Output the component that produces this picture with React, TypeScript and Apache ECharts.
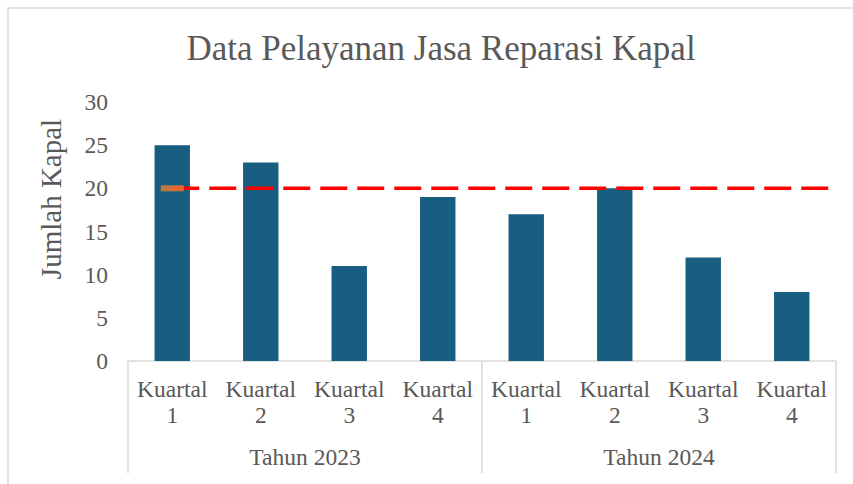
import React, { useEffect, useRef } from "react";
import * as echarts from "echarts";

const quarterLabels = ["Kuartal\n1", "Kuartal\n2", "Kuartal\n3", "Kuartal\n4", "Kuartal\n1", "Kuartal\n2", "Kuartal\n3", "Kuartal\n4"];
const yearLabels = ["Tahun 2023", "Tahun 2024"];
const jumlahKapal = [25, 23, 11, 19, 17, 20, 12, 8];
const targetValue = 20;
const yTicks = { min: 0, max: 30, interval: 5 };

const FONT = "Liberation Serif";
const GREY = "#595959";

export default function App() {
  const ref = useRef<HTMLDivElement>(null);
  useEffect(() => {
    document.body.style.margin = "0";
    const chart = echarts.init(ref.current!, null, { renderer: "svg" });
    const n = quarterLabels.length;
    chart.setOption({
      animation: false,
      backgroundColor: "#ffffff",
      textStyle: { fontFamily: FONT },
      title: {
        text: "Data Pelayanan Jasa Reparasi Kapal",
        left: 436,
        top: 26,
        textAlign: "center",
        textStyle: { fontFamily: FONT, fontSize: 35, fontWeight: "normal", color: GREY },
      },
      graphic: [
        {
          type: "rect",
          shape: { x: 8, y: 8, width: 900, height: 600 },
          style: { fill: "none", stroke: "#d9d9d9", lineWidth: 1.5 },
          silent: true,
        },
        {
          type: "text",
          x: 51,
          y: 199,
          rotation: Math.PI / 2,
          style: {
            text: "Jumlah Kapal",
            fontFamily: FONT,
            fontSize: 29,
            fill: GREY,
            align: "center",
            verticalAlign: "middle",
          },
        },
      ],
      grid: { left: 128, right: 17, top: 102, bottom: 123, containLabel: false },
      xAxis: [
        {
          type: "category",
          data: quarterLabels,
          position: "bottom",
          axisLine: { show: true, lineStyle: { color: "#d9d9d9", width: 1.5 } },
          axisTick: { show: false },
          axisLabel: {
            interval: 0,
            margin: 15,
            color: GREY,
            fontFamily: FONT,
            fontSize: 23.5,
            lineHeight: 26,
          },
        },
        {
          type: "category",
          data: yearLabels,
          position: "bottom",
          axisLine: { show: false },
          axisTick: { show: true, interval: 0, length: 112, lineStyle: { color: "#d9d9d9", width: 1.5 } },
          axisLabel: {
            interval: 0,
            margin: 84,
            color: GREY,
            fontFamily: FONT,
            fontSize: 23.5,
          },
        },
        {
          type: "value",
          min: 0,
          max: n,
          show: false,
        },
      ],
      yAxis: {
        type: "value",
        min: yTicks.min,
        max: yTicks.max,
        interval: yTicks.interval,
        axisLine: { show: false },
        axisTick: { show: false },
        splitLine: { show: false },
        axisLabel: { margin: 20, color: GREY, fontFamily: FONT, fontSize: 23.5 },
      },
      series: [
        {
          type: "bar",
          xAxisIndex: 0,
          data: jumlahKapal,
          barWidth: "40%",
          itemStyle: { color: "#185e80" },
        },
        {
          type: "line",
          xAxisIndex: 2,
          data: [
            [0.5, targetValue],
            [n, targetValue],
          ],
          symbol: "none",
          lineStyle: { color: "#ff0000", width: 3.5, type: [27, 10] },
          z: 5,
        },
        {
          type: "scatter",
          xAxisIndex: 0,
          data: [[0, targetValue]],
          symbol: "rect",
          symbolSize: [23, 6],
          itemStyle: { color: "#ed7d31" },
          z: 6,
        },
      ],
    });
    return () => chart.dispose();
  }, []);
  return <div ref={ref} style={{ width: 853, height: 484 }} />;
}
